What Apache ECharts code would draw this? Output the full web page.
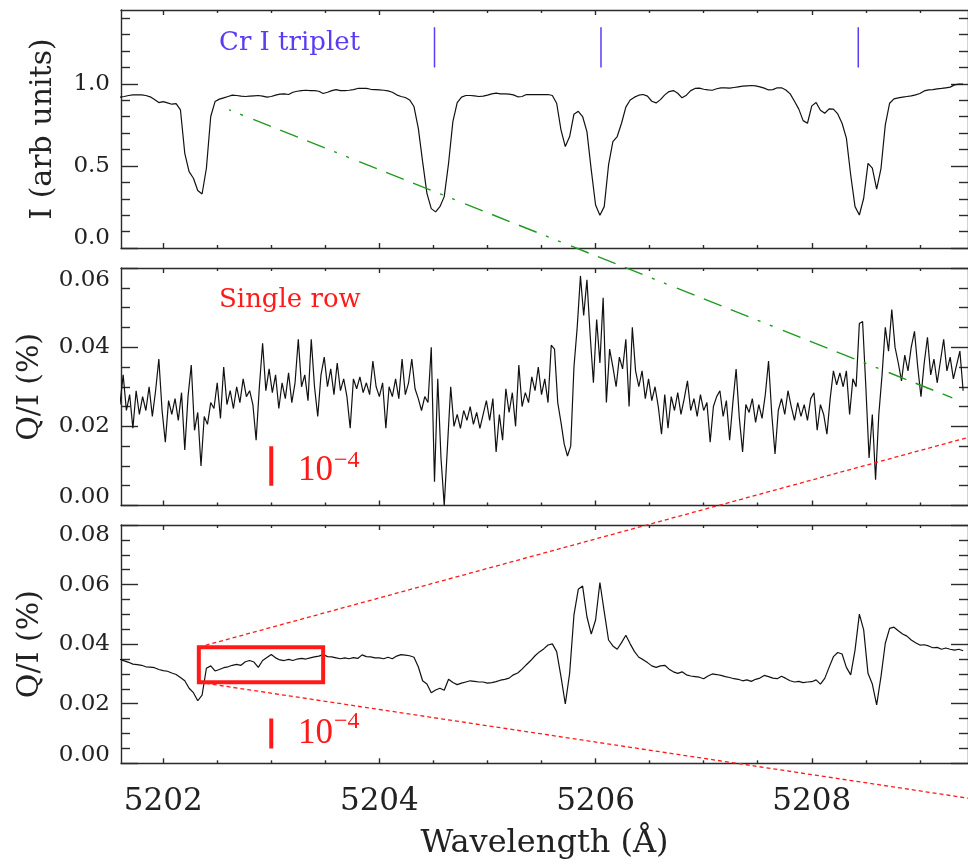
<!DOCTYPE html>
<html><head><meta charset="utf-8">
<script src="https://cdn.jsdelivr.net/npm/echarts@6/dist/echarts.min.js"></script>
<style>html,body{margin:0;padding:0;background:#fff;}#c{width:968px;height:866px;}</style>
</head><body><div id="c"></div><script>
// ---- wavelength grids (Angstrom) ----
const lamStartI = 5201.60, lamStepI = 0.04;   // Stokes I samples
const lamStartS = 5201.60, lamStepS = 0.03;   // single-row Q/I samples
const lamStartA = 5201.60, lamStepA = 0.04;   // averaged Q/I samples

// ---- top panel: intensity (arb units) ----
const intensity = [
0.919,0.923,0.929,0.933,0.933,0.933,0.929,0.921,0.904,0.886,
0.892,0.884,0.876,0.880,0.841,0.577,0.465,0.425,0.350,0.329,
0.486,0.801,0.892,0.907,0.915,0.923,0.931,0.929,0.925,0.923,
0.925,0.927,0.929,0.925,0.919,0.923,0.931,0.937,0.939,0.935,
0.949,0.955,0.959,0.961,0.959,0.959,0.955,0.941,0.949,0.959,
0.965,0.959,0.959,0.961,0.965,0.972,0.972,0.972,0.967,0.965,
0.963,0.961,0.957,0.949,0.933,0.923,0.917,0.902,0.862,0.730,
0.526,0.333,0.240,0.220,0.252,0.313,0.516,0.770,0.886,0.919,
0.929,0.929,0.927,0.923,
0.925,0.931,0.939,0.943,0.939,0.939,
0.937,0.933,0.921,0.923,0.935,0.935,0.935,0.935,0.935,0.935,
0.929,0.882,0.720,0.618,0.679,0.815,0.833,0.801,0.709,0.476,
0.262,0.199,0.252,0.506,0.648,0.679,0.760,0.858,0.902,0.919,
0.931,0.935,0.925,0.894,0.884,0.904,0.933,0.953,0.959,0.943,
0.915,0.931,0.959,0.972,0.974,0.967,0.963,0.961,0.970,0.976,
0.976,0.974,0.978,0.982,0.986,0.988,0.990,0.988,0.982,0.974,
0.963,0.965,0.976,0.976,0.963,0.939,0.894,0.846,0.776,0.760,
0.866,0.886,0.839,0.821,0.848,0.846,0.817,0.760,0.669,0.445,
0.252,0.201,0.303,0.516,0.486,0.358,0.484,0.750,0.882,0.909,
0.915,0.919,0.923,0.927,0.933,0.941,0.957,0.963,0.965,0.970,
0.972,0.976,0.980,0.994,0.998,0.998
];

// ---- middle panel: single row Q/I (%) ----
const qiSingle = [
0.0255,0.0330,0.0240,0.0280,0.0195,0.0290,0.0230,0.0275,0.0240,0.0300,
0.0225,0.0290,0.0370,0.0240,0.0160,0.0265,0.0230,0.0270,0.0215,0.0285,
0.0140,0.0275,0.0355,0.0190,0.0235,0.0100,0.0225,0.0205,0.0260,0.0245,
0.0310,0.0220,0.0350,0.0255,0.0290,0.0245,0.0300,0.0260,0.0320,0.0275,
0.0290,0.0255,0.0165,0.0300,0.0410,0.0290,0.0345,0.0285,0.0330,0.0245,
0.0310,0.0270,0.0335,0.0260,0.0310,0.0420,0.0300,0.0330,0.0265,0.0420,
0.0300,0.0225,0.0330,0.0375,0.0300,0.0345,0.0280,0.0360,0.0290,0.0320,
0.0275,0.0195,0.0320,0.0295,0.0325,0.0285,0.0310,0.0280,0.0365,0.0300,
0.0275,0.0310,0.0195,0.0300,0.0275,0.0320,0.0270,0.0370,0.0280,0.0310,
0.0370,0.0295,0.0270,0.0240,0.0275,0.0260,0.0400,0.0060,0.0320,0.0120,
0.0000,0.0150,0.0300,0.0200,0.0230,0.0195,0.0240,0.0215,0.0250,0.0205,
0.0235,0.0195,0.0230,0.0265,0.0215,0.0270,0.0135,0.0230,0.0165,0.0295,
0.0235,0.0285,0.0200,0.0355,0.0250,0.0285,0.0260,0.0325,0.0290,0.0350,
0.0280,0.0320,0.0260,0.0405,0.0395,0.0260,0.0210,0.0155,0.0125,0.0150,
0.0350,0.0450,0.0580,0.0480,0.0570,0.0430,0.0310,0.0470,0.0360,0.0525,
0.0260,0.0395,0.0350,0.0300,0.0375,0.0345,0.0420,0.0250,0.0450,0.0340,
0.0300,0.0340,0.0270,0.0320,0.0265,0.0300,0.0250,0.0180,0.0280,0.0195,
0.0275,0.0240,0.0285,0.0230,0.0270,0.0315,0.0240,0.0270,0.0225,0.0280,
0.0240,0.0260,0.0160,0.0250,0.0275,0.0290,0.0225,0.0265,0.0165,0.0260,
0.0345,0.0220,0.0135,0.0255,0.0235,0.0270,0.0210,0.0255,0.0220,0.0280,
0.0365,0.0230,0.0130,0.0240,0.0270,0.0230,0.0290,0.0250,0.0215,0.0260,
0.0225,0.0255,0.0215,0.0270,0.0285,0.0190,0.0255,0.0230,0.0180,0.0270,
0.0340,0.0305,0.0335,0.0300,0.0340,0.0230,0.0320,0.0300,0.0460,0.0465,
0.0300,0.0120,0.0230,0.0065,0.0230,0.0330,0.0450,0.0390,0.0495,0.0400,
0.0360,0.0315,0.0380,0.0340,0.0400,0.0440,0.0350,0.0275,0.0360,0.0425,
0.0330,0.0370,0.0310,0.0365,0.0420,0.0340,0.0375,0.0320,0.0355,0.0390,0.0290
];

// ---- bottom panel: averaged Q/I (%) ----
const qiAvg = [
0.0349,0.0344,0.0339,0.0333,0.0331,0.0329,0.0324,0.0323,0.0321,0.0315,
0.0311,0.0309,0.0303,0.0298,0.0288,0.0277,0.0252,0.0237,0.0210,0.0229,
0.0319,0.0327,0.0310,0.0315,0.0321,0.0324,0.0329,0.0332,0.0329,0.0341,
0.0345,0.0340,0.0322,0.0345,0.0355,0.0365,0.0354,0.0347,0.0345,0.0349,
0.0345,0.0350,0.0352,0.0350,0.0354,0.0357,0.0360,0.0365,0.0358,0.0357,
0.0354,0.0351,0.0354,0.0351,0.0355,0.0352,0.0364,0.0358,0.0357,0.0354,
0.0354,0.0351,0.0356,0.0351,0.0360,0.0365,0.0363,0.0361,0.0356,0.0324,
0.0277,0.0266,0.0237,0.0246,0.0252,0.0245,0.0282,0.0271,0.0264,0.0269,
0.0273,0.0277,0.0275,0.0273,0.0273,0.0269,0.0271,0.0274,0.0279,0.0282,
0.0286,0.0297,0.0303,0.0316,0.0331,0.0345,0.0361,0.0374,0.0384,0.0397,
0.0401,0.0375,0.0291,0.0199,0.0302,0.0498,0.0584,0.0595,0.0492,0.0434,
0.0481,0.0607,0.0509,0.0414,0.0394,0.0383,0.0405,0.0430,0.0401,0.0375,
0.0356,0.0348,0.0338,0.0327,0.0322,0.0327,0.0329,0.0316,0.0307,0.0302,
0.0307,0.0297,0.0293,0.0291,0.0289,0.0284,0.0293,0.0300,0.0298,0.0295,
0.0291,0.0288,0.0284,0.0282,0.0277,0.0280,0.0275,0.0282,0.0286,0.0295,
0.0291,0.0286,0.0284,0.0292,0.0285,0.0277,0.0273,0.0275,0.0271,0.0273,
0.0274,0.0280,0.0266,0.0285,0.0322,0.0358,0.0372,0.0367,0.0322,0.0297,
0.0380,0.0501,0.0448,0.0302,0.0266,0.0196,0.0291,0.0403,0.0453,0.0457,
0.0445,0.0434,0.0427,0.0414,0.0405,0.0397,0.0398,0.0394,0.0388,0.0389,
0.0383,0.0387,0.0383,0.0380,0.0383,0.0378
];

// ---- axes ----
const xMin = 5201.61, xMax = 5209.445;
const xMajorTicks = [5202, 5204, 5206, 5208];
const xMinorTicks = [5202.5,5203,5203.5,5204.5,5205,5205.5,5206.5,5207,5207.5,5208.5,5209];
const xTickLabels = [5202, 5204, 5206, 5208];

const yRangeI = [0, 1.45], yMajorI = [0, 0.5, 1.0], yMinorI = [0.1,0.2,0.3,0.4,0.6,0.7,0.8,0.9,1.1,1.2,1.3,1.4];
const yRangeS = [0, 0.06], yMajorS = [0, 0.02, 0.04, 0.06], yMinorS = [0.005,0.01,0.015,0.025,0.03,0.035,0.045,0.05,0.055];
const yRangeA = [0, 0.08], yMajorA = [0, 0.02, 0.04, 0.06, 0.08], yMinorA = [0.005,0.01,0.015,0.025,0.03,0.035,0.045,0.05,0.055,0.065,0.07,0.075];

// ---- annotations (data coordinates) ----
const crLines = [5204.51, 5206.05, 5208.43];
const crLineY = [1.10, 1.345];
const scaleBarX = 5203.0, scaleBarY = [0.005, 0.015];
const greenStart = [5202.61, 0.842];     // top panel coords
const greenEnd = [5209.30, 0.0272];      // middle panel coords
const zoomBoxX = [5202.33, 5203.48], zoomBoxY = [0.0272, 0.0390]; // bottom panel
const redUpperEnd = [5209.445, 0.1094], redLowerEnd = [5209.445, -0.0117]; // bottom panel coords (extrapolated)

const frameColor = '#2b2b2b';
const serif = 'DejaVu Serif';
const lineCol = { color: frameColor, width: 1.4 };

function xAxesFor(g, withLabels) {
  const base = { type: 'value', gridIndex: g, min: xMin, max: xMax, splitLine: { show: false } };
  return [
    Object.assign({}, base, { position: 'bottom',
      axisLine: { show: true, onZero: false, lineStyle: lineCol },
      axisTick: { show: true, inside: true, length: 5, customValues: xMajorTicks, lineStyle: lineCol },
      axisLabel: withLabels ? { show: true, customValues: xTickLabels, margin: 23, fontFamily: serif, fontSize: 31, color: '#222', formatter: v => String(v) } : { show: false },
      name: withLabels ? 'Wavelength (Å)' : '', nameLocation: 'middle', nameGap: 64,
      nameTextStyle: { fontFamily: serif, fontSize: 32, color: '#222' } }),
    Object.assign({}, base, { position: 'bottom',
      axisLine: { show: false, onZero: false },
      axisTick: { show: true, inside: true, length: 3, customValues: xMinorTicks, lineStyle: lineCol },
      axisLabel: { show: false } }),
    Object.assign({}, base, { position: 'top',
      axisLine: { show: true, onZero: false, lineStyle: lineCol },
      axisTick: { show: true, inside: true, length: 5, customValues: xMajorTicks, lineStyle: lineCol },
      axisLabel: { show: false } }),
    Object.assign({}, base, { position: 'top',
      axisLine: { show: false, onZero: false },
      axisTick: { show: true, inside: true, length: 3, customValues: xMinorTicks, lineStyle: lineCol },
      axisLabel: { show: false } })
  ];
}

function yAxesFor(g, range, major, minor, dec, name, nameGap, loPad, hiPad) {
  const base = { type: 'value', gridIndex: g, min: range[0], max: range[1], splitLine: { show: false } };
  const fs = { fontFamily: serif, fontSize: 23, color: '#222' };
  return [
    Object.assign({}, base, { position: 'left',
      axisLine: { show: true, onZero: false, lineStyle: lineCol },
      axisTick: { show: true, inside: true, length: 17, customValues: major, lineStyle: lineCol },
      axisLabel: Object.assign({ show: true, customValues: major, margin: 11,
        formatter: v => {
          const t = v.toFixed(dec);
          if (Math.abs(v - range[0]) < 1e-9) return '{lo|' + t + '}';
          if (Math.abs(v - range[1]) < 1e-9) return '{hi|' + t + '}';
          return t;
        },
        rich: { lo: Object.assign({ padding: [0, 0, loPad, 0] }, fs), hi: Object.assign({ padding: [hiPad, 0, 0, 0] }, fs) } }, fs),
      name: name, nameLocation: 'middle', nameGap: nameGap,
      nameTextStyle: { fontFamily: serif, fontSize: 30, color: '#222' } }),
    Object.assign({}, base, { position: 'left',
      axisLine: { show: false, onZero: false },
      axisTick: { show: true, inside: true, length: 9, customValues: minor, lineStyle: lineCol },
      axisLabel: { show: false } }),
    Object.assign({}, base, { position: 'right',
      axisLine: { show: true, onZero: false, lineStyle: lineCol },
      axisTick: { show: true, inside: true, length: 17, customValues: major, lineStyle: lineCol },
      axisLabel: { show: false } }),
    Object.assign({}, base, { position: 'right',
      axisLine: { show: false, onZero: false },
      axisTick: { show: true, inside: true, length: 9, customValues: minor, lineStyle: lineCol },
      axisLabel: { show: false } })
  ];
}

const toPairs = (arr, start, step) => arr.map((v, i) => [+(start + i * step).toFixed(3), v]);
const dataLine = (g, data) => ({ type: 'line', xAxisIndex: 4 * g, yAxisIndex: 4 * g, data: data,
  showSymbol: false, symbol: 'none', silent: true, lineStyle: { color: '#111', width: 1.2 }, z: 3 });

const series = [
  dataLine(0, toPairs(intensity, lamStartI, lamStepI)),
  dataLine(1, toPairs(qiSingle, lamStartS, lamStepS)),
  dataLine(2, toPairs(qiAvg, lamStartA, lamStepA))
];
crLines.forEach(x => series.push({ type: 'line', xAxisIndex: 0, yAxisIndex: 0, symbol: 'none', silent: true,
  data: [[x, crLineY[0]], [x, crLineY[1]]], lineStyle: { color: '#5b3cf5', width: 1.5 } }));
[1, 2].forEach(g => series.push({ type: 'line', xAxisIndex: 4 * g, yAxisIndex: 4 * g, symbol: 'none', silent: true,
  data: [[scaleBarX, scaleBarY[0]], [scaleBarX, scaleBarY[1]]], lineStyle: { color: '#ff1a1a', width: 4, cap: 'butt' } }));

const option = {
  animation: false,
  backgroundColor: '#fff',
  grid: [
    { left: 121, top: 10, width: 853, height: 238 },
    { left: 121, top: 268, width: 853, height: 237.5 },
    { left: 121, top: 525, width: 853, height: 238.3 }
  ],
  xAxis: [].concat(xAxesFor(0, false), xAxesFor(1, false), xAxesFor(2, true)),
  yAxis: [].concat(
    yAxesFor(0, yRangeI, yMajorI, yMinorI, 1, 'I (arb units)', 63, 20, 0),
    yAxesFor(1, yRangeS, yMajorS, yMinorS, 2, 'Q/I (%)', 76, 16, 24),
    yAxesFor(2, yRangeA, yMajorA, yMinorA, 2, 'Q/I (%)', 76, 16, 20)),
  series: series
};

const chart = echarts.init(document.getElementById('c'), null, { renderer: 'canvas' });
chart.setOption(option);

const px = (g, pt) => chart.convertToPixel({ gridIndex: g }, pt);
const gS = px(0, greenStart), gE = px(1, greenEnd);
const bTL = px(2, [zoomBoxX[0], zoomBoxY[1]]), bBR = px(2, [zoomBoxX[1], zoomBoxY[0]]);
const bBL = px(2, [zoomBoxX[0], zoomBoxY[0]]);
const rU = px(2, redUpperEnd), rL = px(2, redLowerEnd);
const red = '#ff1a1a';

chart.setOption({ graphic: [
  { type: 'line', silent: true, z: 100, shape: { x1: gS[0], y1: gS[1], x2: gE[0], y2: gE[1] },
    style: { stroke: '#1f9a1f', lineWidth: 1.4, lineDash: [19, 10, 19, 10, 19, 10, 3, 10, 3, 11], lineDashOffset: 88 } },
  { type: 'line', silent: true, z: 100, shape: { x1: bTL[0], y1: bTL[1], x2: rU[0], y2: rU[1] },
    style: { stroke: red, lineWidth: 1.3, lineDash: [4, 3] } },
  { type: 'line', silent: true, z: 100, shape: { x1: bBL[0], y1: bBL[1], x2: rL[0], y2: rL[1] },
    style: { stroke: red, lineWidth: 1.3, lineDash: [4, 3] } },
  { type: 'rect', silent: true, z: 101, shape: { x: bTL[0], y: bTL[1], width: bBR[0] - bTL[0], height: bBR[1] - bTL[1] },
    style: { fill: 'none', stroke: red, lineWidth: 4 } },
  { type: 'text', silent: true, z: 102, x: 219, y: 43,
    style: { text: 'Cr I triplet', fontFamily: serif, fontSize: 26, fill: '#5b3cf5', verticalAlign: 'middle' } },
  { type: 'text', silent: true, z: 102, x: 219, y: 300,
    style: { text: 'Single row', fontFamily: serif, fontSize: 26, fill: red, verticalAlign: 'middle' } },
  { type: 'text', silent: true, z: 102, x: 298, y: 471,
    style: { text: '10', fontFamily: 'Liberation Serif', fontSize: 35, fill: red, verticalAlign: 'middle' } },
  { type: 'text', silent: true, z: 102, x: 334, y: 461,
    style: { text: '−4', fontFamily: 'Liberation Serif', fontSize: 24, fill: red, verticalAlign: 'middle' } },
  { type: 'text', silent: true, z: 102, x: 298, y: 734,
    style: { text: '10', fontFamily: 'Liberation Serif', fontSize: 35, fill: red, verticalAlign: 'middle' } },
  { type: 'text', silent: true, z: 102, x: 334, y: 722,
    style: { text: '−4', fontFamily: 'Liberation Serif', fontSize: 24, fill: red, verticalAlign: 'middle' } }
] });
</script></body></html>
